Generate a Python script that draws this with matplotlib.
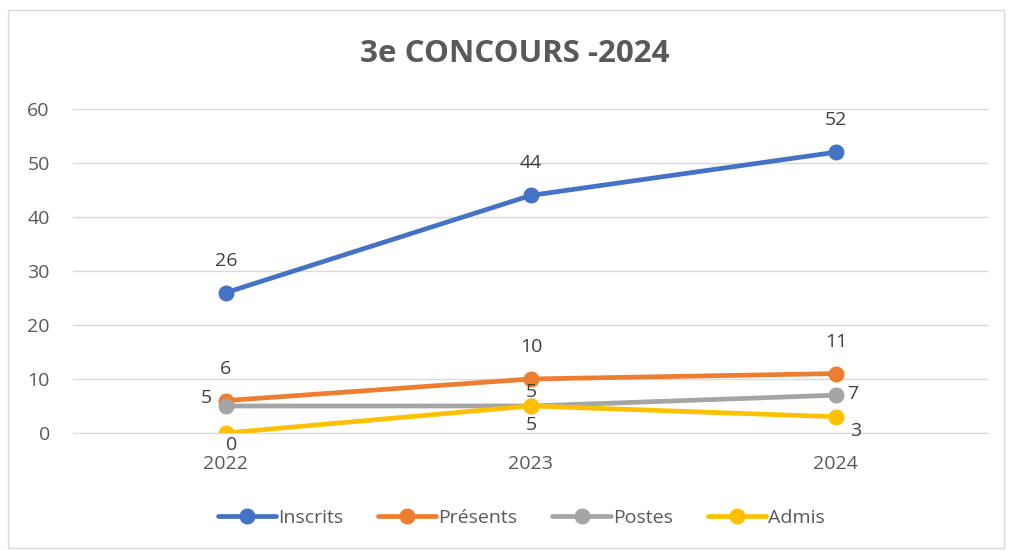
import matplotlib.pyplot as plt
from matplotlib.patches import Rectangle

years = ["2022", "2023", "2024"]
inscrits = [26, 44, 52]
presents = [6, 10, 11]
postes = [5, 5, 7]
admis = [0, 5, 3]

series = [
    ("Inscrits", inscrits, "#4472C4"),
    ("Présents", presents, "#ED7D31"),
    ("Postes", postes, "#A5A5A5"),
    ("Admis", admis, "#FFC000"),
]

# label offsets (points) per series and per point, mimicking the Excel placement
offsets = {
    "Inscrits": [(0, 23), (0, 23), (0, 23)],
    "Présents": [(0, 23), (0, 23), (0, 23)],
    "Postes": [(-14, 6), (0, 10), (12, 1)],
    "Admis": [(4, -9), (0, -14), (14, -10)],
}

plt.rcParams['font.family'] = ['Open Sans', 'DejaVu Sans']
txt = "#595959"

fig = plt.figure(figsize=(10.12, 5.51), dpi=100)
fig.patches.append(Rectangle((8 / 1012, 1 - 548 / 551), 996 / 1012, 538 / 551,
                             transform=fig.transFigure, fill=False,
                             edgecolor="#D9D9D9", linewidth=1))
ax = fig.add_axes([0.0726, 0.2142, 0.904, 0.588])

x = list(range(len(years)))
for name, vals, col in series:
    ax.plot(x, vals, color=col, linewidth=3.4, marker="o", markersize=10.5,
            label=name, solid_capstyle="round")
    for i, v in enumerate(vals):
        dx, dy = offsets[name][i]
        ax.annotate(str(v), (i, v), xytext=(dx, dy), textcoords="offset points",
                    ha="center", va="center", fontsize=14, color="#404040")

ax.set_xlim(-0.5, 2.5)
ax.set_ylim(0, 60)
ax.set_yticks(range(0, 61, 10))
ax.set_xticks(x)
ax.set_xticklabels(years)
ax.grid(axis="y", color="#D9D9D9", linewidth=1)
ax.set_axisbelow(True)
for s in ["top", "right", "left"]:
    ax.spines[s].set_visible(False)
ax.spines["bottom"].set_color("#D9D9D9")
ax.tick_params(axis="both", length=0, labelsize=14, colors=txt)
ax.tick_params(axis="y", pad=17)
ax.tick_params(axis="x", pad=16)

fig.text(0.509, 0.902, "3e CONCOURS -2024", ha="center", va="center",
         fontsize=22.5, fontweight="bold", color=txt)

fig.legend(loc="center", bbox_to_anchor=(0.515, 0.06), ncol=4, frameon=False,
           fontsize=14, labelcolor=txt, handlelength=3.0, handletextpad=0.1,
           columnspacing=1.8)

fig.savefig("out.png", dpi=100)
